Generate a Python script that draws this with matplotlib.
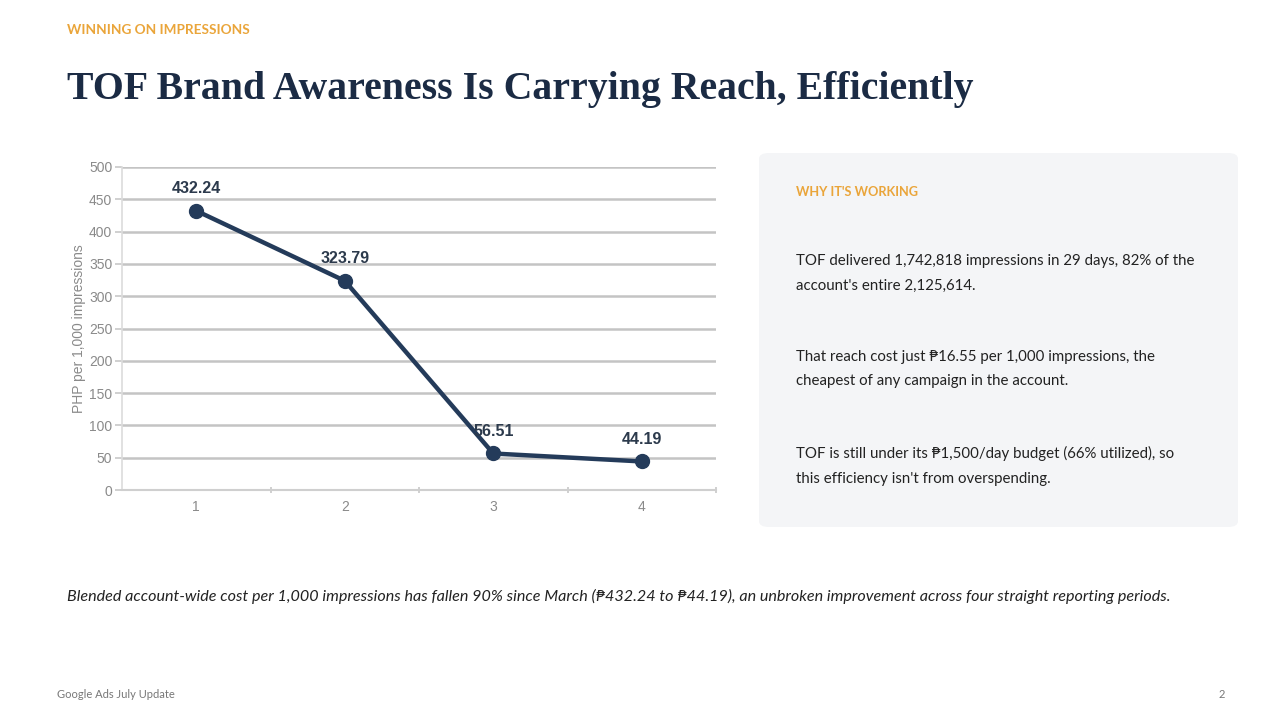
import matplotlib
matplotlib.use("Agg")
import matplotlib.pyplot as plt
from matplotlib.patches import FancyBboxPatch

# chart data
periods = [1, 2, 3, 4]
cpm_php = [432.24, 323.79, 56.51, 44.19]
y_ticks = [0, 50, 100, 150, 200, 250, 300, 350, 400, 450, 500]

# slide text
kicker = "WINNING ON IMPRESSIONS"
title = "TOF Brand Awareness Is Carrying Reach, Efficiently"
panel_head = "WHY IT'S WORKING"
panel_points = [
    "TOF delivered 1,742,818 impressions in 29 days, 82% of the\naccount's entire 2,125,614.",
    "That reach cost just \u20b116.55 per 1,000 impressions, the\ncheapest of any campaign in the account.",
    "TOF is still under its \u20b11,500/day budget (66% utilized), so\nthis efficiency isn't from overspending.",
]
takeaway = ("Blended account-wide cost per 1,000 impressions has fallen 90% since March "
            "(\u20b1432.24 to \u20b144.19), an unbroken improvement across four straight reporting periods.")
footer_left = "Google Ads July Update"
footer_right = "2"

W, H = 1280, 720
NAVY = "#1b2b44"
ORANGE = "#eaa53a"
BODY = ["Lato", "DejaVu Sans"]


def fx(x):
    return x / W


def fy(y):
    return 1 - y / H


fig = plt.figure(figsize=(12.8, 7.2), dpi=100)
fig.patch.set_facecolor("white")

# header
fig.text(fx(67), fy(30), kicker, family=BODY, weight="bold", size=9.8,
         color=ORANGE, va="center", ha="left")
fig.text(fx(67), fy(89), title, family="Liberation Serif", weight="bold",
         size=28.6, color=NAVY, va="center", ha="left")

# line chart
ax = fig.add_axes([fx(122), fy(490), fx(716) - fx(122), fy(167) - fy(490)])
ax.set_xlim(0.5, 4.5)
ax.set_ylim(0, 500)
ax.set_yticks(y_ticks)
ax.set_xticks(periods)
ax.set_xticks([1.5, 2.5, 3.5, 4.5], minor=True)
ax.tick_params(axis="x", which="major", length=0, pad=7, labelsize=10, labelcolor="#8a8a8a")
ax.tick_params(axis="x", which="minor", length=4, width=1.2, color="#c8c8c8", direction="inout")
ax.tick_params(axis="y", length=5, width=1.2, color="#c8c8c8", pad=2, labelsize=10,
               labelcolor="#8a8a8a")
for lab in ax.get_xticklabels() + ax.get_yticklabels():
    lab.set_family("Liberation Sans")
ax.grid(axis="y", color="#c4c4c4", linewidth=1.8)
ax.set_axisbelow(True)
for side in ["top", "right"]:
    ax.spines[side].set_visible(False)
ax.spines["left"].set_color("#dcdcdc")
ax.spines["left"].set_linewidth(1.2)
ax.spines["bottom"].set_color("#cfcfcf")
ax.spines["bottom"].set_linewidth(1.5)
ax.set_ylabel("PHP per 1,000 impressions", family="Liberation Sans", size=10,
              color="#8a8a8a", labelpad=2)

ax.plot(periods, cpm_php, color="#243b5a", linewidth=3.2, marker="o",
        markersize=10, markerfacecolor="#243b5a", markeredgecolor="#243b5a",
        clip_on=False, zorder=3)
for xv, yv in zip(periods, cpm_php):
    ax.annotate(f"{yv:.2f}", (xv, yv), xytext=(0, 22), textcoords="offset pixels",
                ha="center", va="center", family="Liberation Sans", weight="bold",
                size=11.5, color="#2c3a4c", zorder=4)

# right-hand panel
panel = FancyBboxPatch((fx(759), fy(527)), fx(1238) - fx(759), fy(153) - fy(527),
                       boxstyle="round,pad=0,rounding_size=0.008",
                       transform=fig.transFigure, facecolor="#f4f5f7",
                       edgecolor="none", zorder=0)
fig.patches.append(panel)
fig.text(fx(796), fy(192), panel_head, family=BODY, weight="bold", size=9.2,
         color=ORANGE, va="center", ha="left")
for i, point in enumerate(panel_points):
    fig.text(fx(796), fy(259 + 96 * i - 5), point, family=BODY, size=10.85,
             color="#222222", va="top", ha="left", linespacing=1.95)

# takeaway and footer
fig.text(fx(67), fy(596), takeaway, family=BODY, style="italic", size=11.6,
         color="#222222", va="center", ha="left")
fig.text(fx(57), fy(694), footer_left, family=BODY, size=8, color="#777777",
         va="center", ha="left")
fig.text(fx(1222), fy(694), footer_right, family=BODY, size=8, color="#777777",
         va="center", ha="center")

fig.savefig("out.png", dpi=100, facecolor="white")
